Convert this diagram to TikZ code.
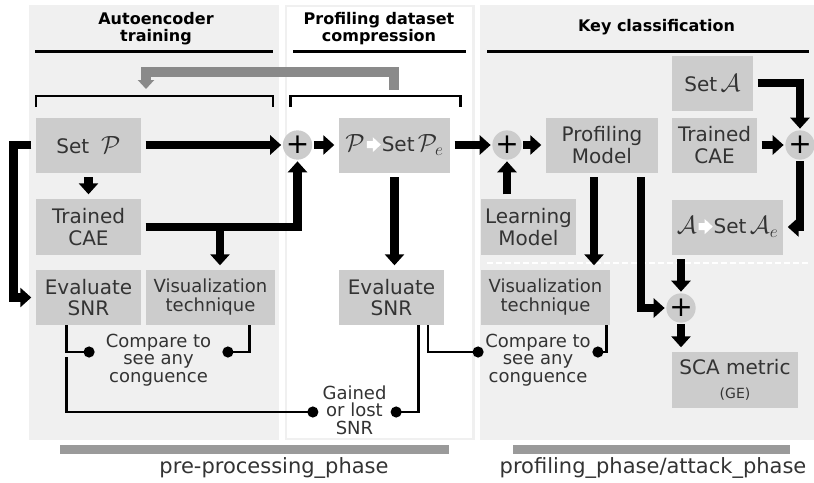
\documentclass[tikz,border=0pt]{standalone}
\usepackage{fontspec}
\setmainfont{DejaVu Sans}
\usetikzlibrary{arrows.meta}
\definecolor{panel}{HTML}{F0F0F0}
\definecolor{boxg}{HTML}{CCCCCC}
\definecolor{txt}{HTML}{333333}
\definecolor{garrow}{HTML}{8A8A8A}
\definecolor{barg}{HTML}{9A9A9A}
\newcommand{\whitearrow}{\hspace{2pt}\tikz[baseline=-7pt]\fill[white] (0pt,-3.5pt) -- (6pt,-3.5pt) -- (6pt,-7.5pt) -- (14pt,0pt) -- (6pt,7.5pt) -- (6pt,3.5pt) -- (0pt,3.5pt) -- cycle;\hspace{1pt}}
\newcommand{\calP}{{\fontsize{26}{26}\selectfont$\mathcal{P}$}}
\newcommand{\calPe}{{\fontsize{26}{26}\selectfont$\mathcal{P}_e$}}
\newcommand{\calA}{{\fontsize{26}{26}\selectfont$\mathcal{A}$}}
\newcommand{\calAe}{{\fontsize{26}{26}\selectfont$\mathcal{A}_e$}}

\begin{document}
\begin{tikzpicture}[x=1pt,y=-1pt]
\tikzstyle{box}=[fill=boxg,text=txt,minimum height=55pt,inner sep=2pt,align=center,font=\fontsize{20}{21.5}\selectfont]
\tikzstyle{vis}=[font=\fontsize{18}{19}\selectfont]
\tikzstyle{plus}=[circle,fill=boxg,minimum size=27pt,inner sep=0pt,font=\fontsize{28}{28}\selectfont]
\tikzstyle{arr}=[line width=8.5pt,-{Triangle[width=19pt,length=11pt]},shorten <=4.5pt,shorten >=4.5pt]
\tikzstyle{garr}=[line width=10pt,draw=garrow,-{Triangle[width=16pt,length=9pt]}]
\tikzstyle{thn}=[line width=2.2pt,-{Circle[length=11pt]}]
\tikzstyle{ttl}=[font=\bfseries\fontsize{16}{17}\selectfont,align=center]
\tikzstyle{note}=[text=txt,align=center,inner ysep=0pt,font=\fontsize{18}{17.5}\selectfont]
\tikzstyle{phase}=[text=txt,anchor=base,font=\fontsize{21}{21}\selectfont]
\useasboundingbox (0,0) rectangle (814,482);
\fill[panel] (29,5) rectangle (279,440);
\draw[panel,line width=2.5pt,fill=white] (286,6) rectangle (473.5,439);
\fill[panel] (479.5,5) rectangle (814,440);
\draw[white,line width=1.8pt,dash pattern=on 6pt off 3pt] (487,263) -- (810,263);

\node[ttl] (t1) at (156,29) {Autoencoder\\training};
\node[ttl] (t2) at (379,29) {Profiling dataset\\compression};
\node[ttl] (t3) at (656.5,27) {Key classification};
\draw[line width=2.2pt] (35,51.5) -- (273,51.5);
\draw[line width=2.2pt] (293,51.5) -- (466,51.5);
\draw[line width=2.2pt] (487,51.5) -- (809,51.5);
\draw[line width=2.6pt] (36,107) -- (36,96) -- (273,96) -- (273,107);
\draw[line width=2.6pt] (290.5,107) -- (290.5,96) -- (460.5,96) -- (460.5,107);
\coordinate (gs) at (394,90);
\coordinate (ge) at (146,89);
\draw[garr] (gs) -- ++(0,-18) -| (ge);

\node[box,minimum width=105pt] (sp) at (88.5,145) {Set\hspace{12pt}\calP};
\node[box,minimum width=105pt,minimum height=56pt] (cae) at (88.5,227) {Trained\\CAE};
\node[box,minimum width=105pt] (snrl) at (88.5,297.5) {Evaluate\\SNR};
\node[box,vis,minimum width=129pt] (visl) at (210.5,297.5) {Visualization\\technique};
\node[box,minimum width=111pt] (spe) at (394.5,145) {\calP\whitearrow Set\,\calPe};
\node[box,minimum width=105pt] (snrm) at (391.5,297.5) {Evaluate\\SNR};
\node[box,minimum width=112pt] (pm) at (602,145) {Profiling\\Model};
\node[box,minimum width=95pt,minimum height=56pt] (lm) at (528.5,227) {Learning\\Model};
\node[box,vis,minimum width=129pt] (visr) at (545.5,297.5) {Visualization\\technique};
\node[box,minimum width=81pt] (sa) at (712.5,83) {Set\,\calA};
\node[box,minimum width=85pt] (caer) at (714.5,145) {Trained\\CAE};
\node[box,minimum width=111pt] (sae) at (727.5,227) {\calA\whitearrow Set\,\calAe};
\node[box,minimum width=126pt,minimum height=56pt] (sca) at (735,380) {SCA metric\\[2pt]{\fontsize{14}{14}\selectfont(GE)}};
\node[plus] (p1) at (297.5,145) {+};
\node[plus] (p2) at (507,145) {+};
\node[plus] (p3) at (800,145) {+};
\node[plus] (p4) at (681,308) {+};

\draw[arr,shorten >=1.5pt] (sp) -- (p1);
\draw[arr,shorten <=1.5pt] (p1) -- (spe);
\draw[arr] (sp) -- (cae);
\draw[arr] (sp.west) -- ++(-22.5,0) |- (snrl.west);
\coordinate (j1) at (220,227);
\draw[arr] (cae.east) -- (j1) -- (j1 |- visl.north);
\draw[arr,shorten <=0pt,shorten >=1.5pt] (j1) -| (p1.south);
\draw[arr,shorten >=1.5pt] (spe) -- (p2);
\draw[arr,shorten <=1.5pt] (p2) -- (pm);
\draw[arr,shorten >=1.5pt] (lm.north -| p2) -- (p2.south);
\draw[arr] (spe.south) -- (spe.south |- snrm.north);
\draw[arr] ([xshift=-8pt]pm.south) -- ([xshift=-8pt]pm.south |- visr.north);
\draw[arr,shorten >=1.5pt] ([xshift=39pt]pm.south) |- (p4.west);
\draw[arr,shorten >=1.5pt] (sa.east) -| (p3.north);
\draw[arr,shorten >=1.5pt] (caer) -- (p3);
\draw[arr,shorten <=1.5pt] (p3.south) |- (sae.east);
\draw[arr,shorten >=1.5pt] (sae.south -| p4) -- (p4.north);
\draw[arr,shorten <=1.5pt] (p4.south) -- (p4.south |- sca.north);

\node[note,inner xsep=11pt] (cmpl) at (158.5,360) {Compare to\\see any\\conguence};
\node[note,inner xsep=4pt] (gls) at (354.5,410) {Gained\\or lost\\SNR};
\node[note,inner xsep=1.5pt] (cmpr) at (538,360) {Compare to\\see any\\conguence};
\coordinate (lo) at (66.5,357);
\draw[thn] ([xshift=-22pt]snrl.south) |- ([yshift=8pt]cmpl.west);
\draw[thn] ([xshift=39pt]visl.south) |- ([yshift=8pt]cmpl.east);
\draw[thn] (lo) |- ([yshift=-2pt]gls.west);
\draw[thn] ([xshift=27pt]snrm.south) |- ([yshift=-2pt]gls.east);
\draw[thn] ([xshift=36.5pt]snrm.south) |- ([yshift=8pt]cmpr.west);
\draw[thn] ([xshift=61pt]visr.south) |- ([yshift=8pt]cmpr.east);

\fill[barg] (60,445) rectangle (449,453.5);
\fill[barg] (513,445) rectangle (790,453.5);
\node[phase] (ppl) at (274,473) {pre-processing\_phase};
\node[phase] (pal) at (653,473) {profiling\_phase/attack\_phase};
\end{tikzpicture}
\end{document}
